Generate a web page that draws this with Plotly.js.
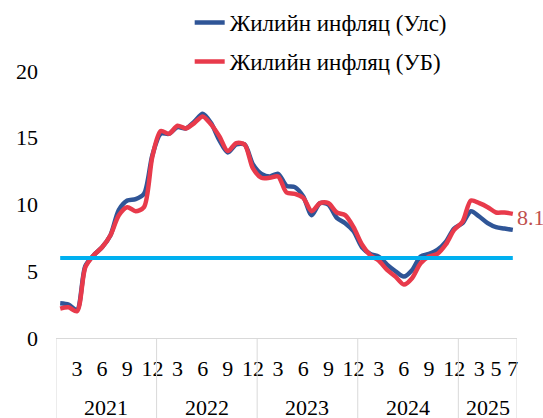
<!DOCTYPE html>
<html><head><meta charset="utf-8">
<script src="https://cdn.plot.ly/plotly-3.0.1.min.js"></script>
<style>html,body{margin:0;padding:0;background:#fff}#chart{position:relative;z-index:1;width:543px;height:418px}
.fontwarm{position:absolute;left:100px;top:150px;z-index:0;font-family:'Liberation Serif',serif;font-size:22px;color:#fff}</style>
</head><body>
<div id="chart"></div>
<div class="fontwarm">Жилийн 2021</div>
<script>
const years = [2021, 2022, 2023, 2024, 2025];
const monthsInYear = [12, 12, 12, 12, 7];
const labeledMonths = [[3, 6, 9, 12], [3, 6, 9, 12], [3, 6, 9, 12], [3, 6, 9, 12], [3, 5, 7]];
const nationalInflation = [
  2.6, 2.5, 2.1, 5.4, 6.2, 6.8, 7.7, 9.6, 10.3, 10.4, 10.8, 13.7,
  15.3, 15.3, 15.8, 15.7, 16.2, 16.8, 16.1, 14.8, 13.9, 14.5, 14.5, 13.0,
  12.3, 12.1, 12.3, 11.4, 11.3, 10.6, 9.2, 10.1, 10.0, 9.0, 8.6, 8.0,
  6.8, 6.3, 6.1, 5.5, 5.0, 4.6, 5.1, 6.1, 6.3, 6.6, 7.2, 8.2,
  8.6, 9.5, 9.1, 8.6, 8.3, 8.2, 8.1
];
const ubInflation = [
  2.2, 2.3, 2.0, 5.3, 6.2, 6.8, 7.7, 9.2, 9.8, 9.5, 9.8, 13.6,
  15.5, 15.3, 15.9, 15.7, 16.1, 16.6, 16.0, 15.1, 14.0, 14.6, 14.5, 12.7,
  12.0, 12.0, 12.1, 10.9, 10.8, 10.5, 9.5, 10.1, 10.1, 9.4, 9.2, 8.3,
  7.0, 6.2, 5.8, 5.1, 4.6, 4.0, 4.5, 5.6, 6.1, 6.3, 7.0, 8.1,
  8.7, 10.3, 10.1, 9.8, 9.4, 9.4, 9.3
];
const targetLevel = 6;
const seriesNames = ['Жилийн инфляц (Улс)', 'Жилийн инфляц (УБ)'];
const endLabel = '8.1';
const yTicks = [0, 5, 10, 15, 20];

const FONT = "'Liberation Serif', serif";

const xIdx = [];
const tickvals = [], ticktext = [];
const bounds = [-0.5];
const yearCenters = [];
let k = 0;
years.forEach((yr, yi) => {
  const start = k;
  for (let m = 1; m <= monthsInYear[yi]; m++) {
    xIdx.push(k);
    if (labeledMonths[yi].includes(m)) { tickvals.push(k); ticktext.push(String(m)); }
    k++;
  }
  bounds.push(k - 0.5);
  yearCenters.push((start + k - 1) / 2);
});
const target = xIdx.map(() => targetLevel);

const traces = [
  {x: xIdx, y: nationalInflation, name: seriesNames[0], mode: 'lines', legendgroup: 'a',
   line: {color: '#2F5597', width: 4.5, shape: 'spline', smoothing: 0.8}},
  {x: xIdx, y: ubInflation, name: seriesNames[1], mode: 'lines', legendgroup: 'b',
   line: {color: '#E83A4B', width: 4.5, shape: 'spline', smoothing: 0.8}},
  {x: xIdx, y: target, name: 'target', mode: 'lines', showlegend: false,
   line: {color: '#00B0F0', width: 4}}
];

const shapes = bounds.map(b => ({
  type: 'line', xref: 'x', yref: 'paper', x0: b, x1: b, y0: 0, y1: -0.32,
  line: {color: '#D9D9D9', width: 1}
}));

const annotations = years.map((yr, i) => ({
  x: yearCenters[i], y: -0.262, xref: 'x', yref: 'paper', text: String(yr),
  showarrow: false, xanchor: 'center', yanchor: 'middle',
  font: {family: FONT, size: 22, color: '#000'}
}));
annotations.push({
  x: xIdx[xIdx.length - 1], y: nationalInflation[nationalInflation.length - 1],
  xref: 'x', yref: 'y', text: endLabel, showarrow: false, xanchor: 'left', yanchor: 'middle',
  xshift: 2, yshift: 12, font: {family: FONT, size: 22, color: '#C0504D'}
});

const layout = {
  width: 543, height: 418,
  margin: {l: 56, r: 26, t: 71, b: 80, pad: 0, autoexpand: false},
  paper_bgcolor: '#ffffff', plot_bgcolor: '#ffffff',
  font: {family: FONT, size: 22, color: '#000'},
  showlegend: true,
  legend: {x: 0.29, y: 1.262, xanchor: 'left', yanchor: 'top', traceorder: 'grouped',
           tracegroupgap: 6, font: {family: FONT, size: 23, color: '#000'}, bgcolor: 'rgba(0,0,0,0)'},
  xaxis: {range: [-0.5, 54.5], tickmode: 'array', tickvals: tickvals, ticktext: ticktext,
          showgrid: false, zeroline: false, showline: true, linecolor: '#D9D9D9', linewidth: 1,
          ticks: '', ticklabelstandoff: 11, fixedrange: true,
          tickfont: {family: FONT, size: 22, color: '#000'}},
  yaxis: {range: [0, 20], tickmode: 'array', tickvals: yTicks, showgrid: false, zeroline: false,
          showline: false, ticks: '', ticklabelstandoff: 17, fixedrange: true,
          tickfont: {family: FONT, size: 22, color: '#000'}},
  shapes: shapes,
  annotations: annotations
};

const config = {displayModeBar: false, staticPlot: true};
Plotly.newPlot('chart', traces, layout, config);
if (document.fonts && document.fonts.load) {
  document.fonts.load("22px 'Liberation Serif'", 'Жилийн 2021').then(() => Plotly.react('chart', traces, layout, config));
}
</script>
</body></html>
